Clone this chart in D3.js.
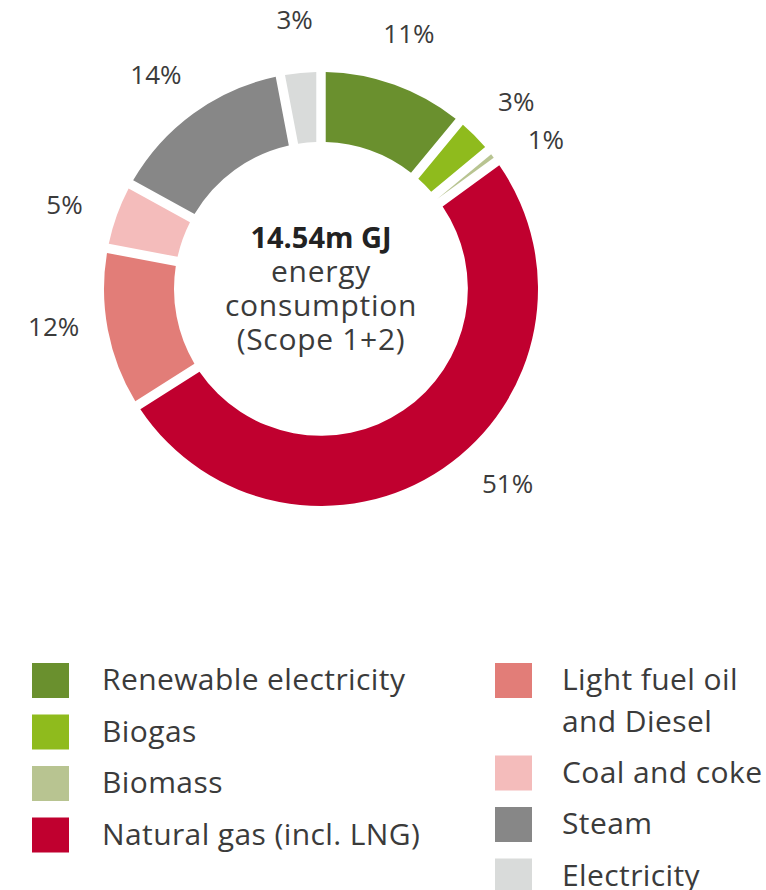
<!DOCTYPE html>
<html>
<head>
<meta charset="utf-8">
<script src="https://cdn.jsdelivr.net/npm/d3@7"></script>
<style>
  html, body { margin: 0; padding: 0; background: #fff; }
  svg { display: block; font-family: "Open Sans", sans-serif; }
</style>
</head>
<body>
<svg id="chart" width="766" height="890"></svg>
<script>
// ---- data ----
const categories = ["Renewable electricity", "Biogas", "Biomass", "Natural gas (incl. LNG)",
                    "Light fuel oil and Diesel", "Coal and coke", "Steam", "Electricity"];
const shares = [11, 3, 1, 51, 12, 5, 14, 3];
const percentLabels = ["11%", "3%", "1%", "51%", "12%", "5%", "14%", "3%"];
const colors = ["#6a902e", "#8fbb1d", "#b8c491", "#c0002f", "#e27d78", "#f4bcbb", "#878787", "#d9dbda"];
const centerLines = ["14.54m GJ", "energy", "consumption", "(Scope 1+2)"];
const legendLeft = [["Renewable electricity"], ["Biogas"], ["Biomass"], ["Natural gas (incl. LNG)"]];
const legendRight = [["Light fuel oil", "and Diesel"], ["Coal and coke"], ["Steam"], ["Electricity"]];

// ---- layout (not data) ----
const cx = 321, cy = 289, rOuter = 217, rInner = 147, rLabel = 270;
const labelNudgeDeg = [-0.8, 1.3, 4.2, -9.5, 2.7, -1.6, -1.7, -0.2];
const textColor = "#3b3b3b";

const svg = d3.select("#chart");
const g = svg.append("g").attr("transform", `translate(${cx},${cy})`);

const pie = d3.pie().sort(null).value(d => d).startAngle(0).endAngle(2 * Math.PI);
const arcs = pie(shares);
const arc = d3.arc().innerRadius(rInner).outerRadius(rOuter).padAngle(0.036);

g.selectAll("path.slice").data(arcs).join("path")
  .attr("class", "slice")
  .attr("d", arc)
  .attr("fill", (d, i) => colors[i]);

// percentage labels
const labelAngle = (d, i) => (d.startAngle + d.endAngle) / 2 + labelNudgeDeg[i] * Math.PI / 180;
g.selectAll("text.pct").data(arcs).join("text")
  .attr("class", "pct")
  .attr("x", (d, i) => rLabel * Math.sin(labelAngle(d, i)))
  .attr("y", (d, i) => -rLabel * Math.cos(labelAngle(d, i)) + 9)
  .attr("text-anchor", "middle")
  .attr("font-size", 26)
  .attr("fill", textColor)
  .text((d, i) => percentLabels[i]);

// center text
const ct = g.append("text").attr("text-anchor", "middle").attr("fill", textColor);
centerLines.forEach((t, i) => {
  ct.append("tspan")
    .attr("x", 0)
    .attr("y", -41 + i * 34)
    .attr("font-size", i === 0 ? 29 : 30)
    .attr("letter-spacing", i === 0 ? 0 : 0.7)
    .attr("font-weight", i === 0 ? 700 : 400)
    .attr("fill", i === 0 ? "#222" : textColor)
    .text(t);
});

// legend
function drawLegend(items, x0, y0, colorOffset, textDx) {
  const lg = svg.append("g").attr("transform", `translate(${x0},${y0})`);
  let y = 0;
  items.forEach((lines, i) => {
    lg.append("rect").attr("x", 0).attr("y", y).attr("width", 37).attr("height", 35)
      .attr("fill", colors[colorOffset + i]);
    const t = lg.append("text").attr("font-size", 30).attr("letter-spacing", 0.4).attr("fill", textColor);
    lines.forEach((ln, j) => {
      t.append("tspan").attr("x", textDx).attr("y", y + 27 + j * 42).text(ln);
    });
    y += 51.5 + (lines.length - 1) * 41;
  });
}
drawLegend(legendLeft, 32, 663, 0, 70);
drawLegend(legendRight, 495, 663, 4, 67);
</script>
</body>
</html>
